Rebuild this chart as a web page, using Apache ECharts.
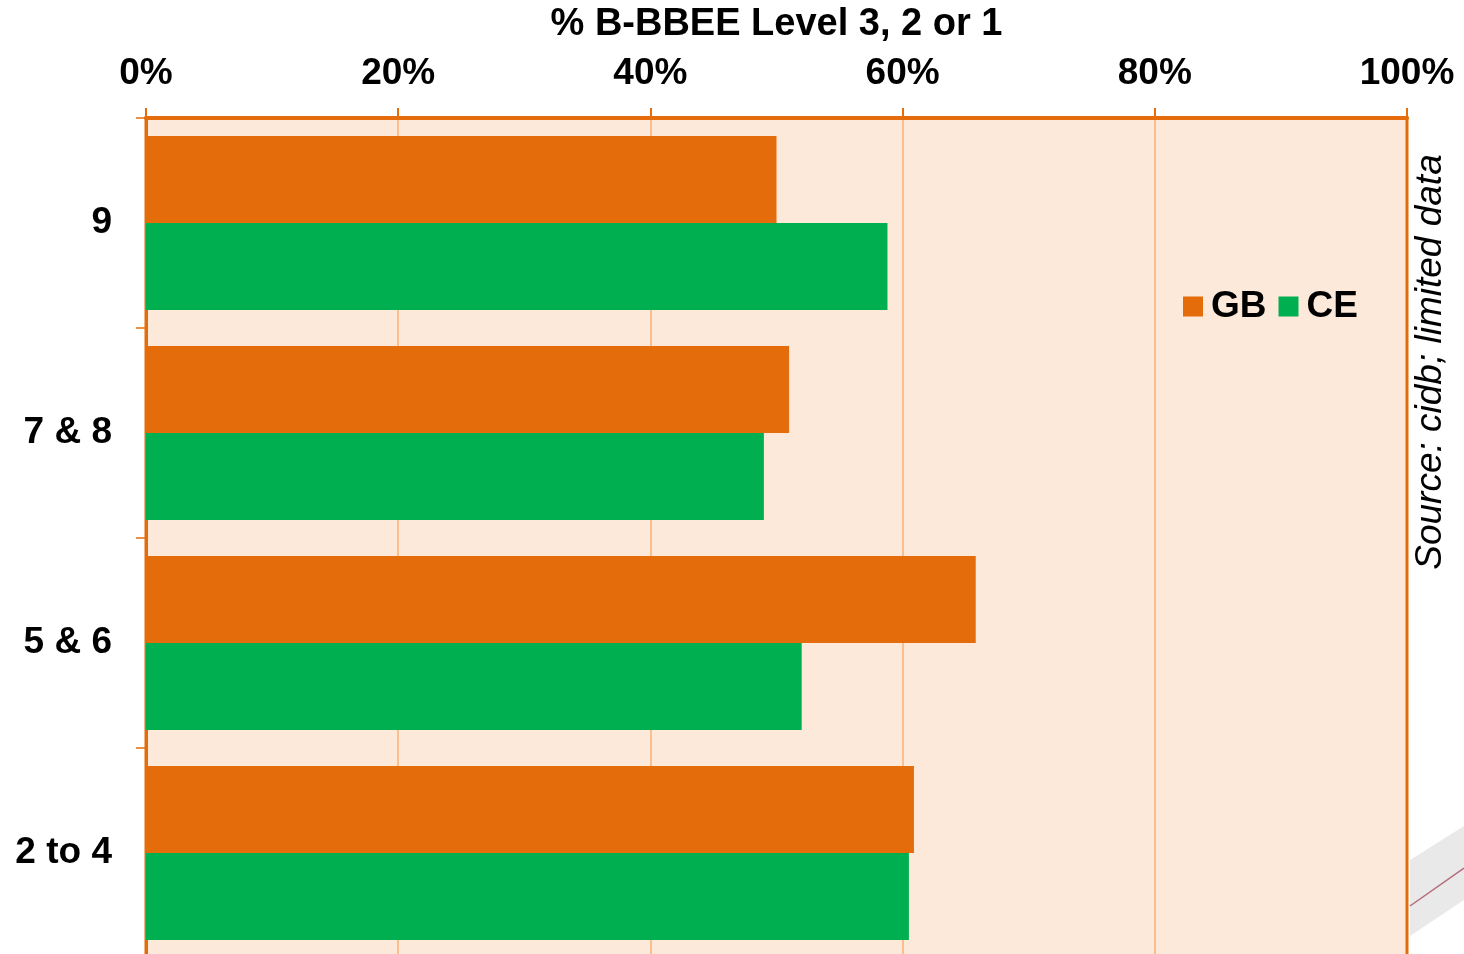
<!DOCTYPE html>
<html>
<head>
<meta charset="utf-8">
<script src="https://cdn.jsdelivr.net/npm/echarts@6/dist/echarts.min.js"></script>
<style>
  html, body { margin: 0; padding: 0; background: #fff; }
  #chart { width: 1464px; height: 954px; }
</style>
</head>
<body>
<div id="chart"></div>
<script>
// categories, top to bottom
const grades = ['9', '7 & 8', '5 & 6', '2 to 4']
// % B-BBEE Level 3, 2 or 1
const gbValues = [50, 51, 65.8, 60.9]
const ceValues = [58.8, 49, 52, 60.5]
const xTicks = [0, 20, 40, 60, 80, 100]

const orange = '#E46C0A'
const green = '#00B050'
const gridLine = '#F9BF8F'
const font = '"Liberation Sans", Arial, sans-serif'

let myCharts = echarts.init(document.getElementById('chart'))
let option = {
  animation: false,
  textStyle: { fontFamily: font },
  grid: {
    left: 146,
    right: 57,
    top: 118,
    bottom: -4,
    outerBoundsMode: 'none',
    containLabel: false,
    show: true,
    backgroundColor: '#FDE9DA',
    borderColor: orange,
    borderWidth: 3,
  },
  legend: {
    left: 1178,
    top: 283,
    icon: 'rect',
    itemWidth: 20,
    itemHeight: 20,
    itemGap: 12,
    textStyle: {
      fontSize: 37,
      fontWeight: 'bold',
      color: '#000',
      fontFamily: font,
      padding: [0, 0, 0, 3],
    },
    data: ['GB', 'CE'],
  },
  xAxis: {
    type: 'value',
    position: 'top',
    min: xTicks[0],
    max: xTicks[xTicks.length - 1],
    interval: 20,
    name: '% B-BBEE Level 3, 2 or 1',
    nameLocation: 'middle',
    nameGap: 74,
    nameTextStyle: { fontSize: 38, fontWeight: 'bold', color: '#000', fontFamily: font },
    axisLine: { show: true, lineStyle: { color: orange, width: 4 } },
    axisTick: { show: true, length: 10, lineStyle: { color: orange, width: 2 } },
    axisLabel: {
      formatter: '{value}%',
      fontSize: 37,
      fontWeight: 'bold',
      color: '#000',
      margin: 26,
      fontFamily: font,
    },
    // last line sits on the right border, keep it orange
    splitLine: {
      show: true,
      lineStyle: {
        color: [gridLine, gridLine, gridLine, gridLine, gridLine, orange],
        width: 2,
      },
    },
  },
  yAxis: {
    type: 'category',
    inverse: true,
    data: grades,
    axisLine: { show: true, lineStyle: { color: orange, width: 3 } },
    axisTick: { show: true, length: 10, lineStyle: { color: orange, width: 1.5 } },
    axisLabel: {
      fontSize: 37,
      fontWeight: 'bold',
      color: '#000',
      margin: 34,
      fontFamily: font,
    },
  },
  series: [
    {
      name: 'GB',
      type: 'bar',
      data: gbValues,
      barWidth: 87,
      barGap: '0%',
      itemStyle: { color: orange },
    },
    {
      name: 'CE',
      type: 'bar',
      data: ceValues,
      barWidth: 87,
      barGap: '0%',
      itemStyle: { color: green },
    },
  ],
  graphic: [
    {
      type: 'polygon',
      silent: true,
      shape: { points: [[1410, 860], [1464, 826], [1464, 900], [1410, 936]] },
      style: { fill: '#E9E9E9' },
    },
    {
      type: 'line',
      silent: true,
      shape: { x1: 1410, y1: 906, x2: 1464, y2: 868 },
      style: { stroke: '#B56A78', lineWidth: 1.5 },
    },
    {
      type: 'text',
      x: 1431,
      y: 362,
      rotation: Math.PI / 2,
      style: {
        text: 'Source: cidb; limited data',
        font: 'italic 37px "Liberation Sans", Arial, sans-serif',
        fill: '#000',
        align: 'center',
        verticalAlign: 'middle',
      },
    },
  ],
}
myCharts.setOption(option)
</script>
</body>
</html>
